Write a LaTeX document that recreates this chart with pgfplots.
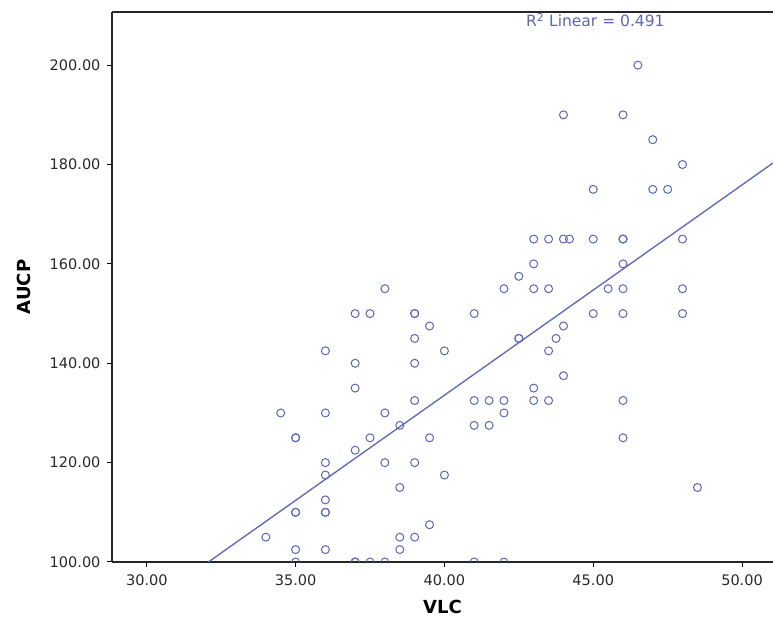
\documentclass[border=0pt]{standalone}
\usepackage{fontspec}
\setmainfont{DejaVu Sans}
\usepackage{pgfplots}
\pgfplotsset{compat=1.18}

\definecolor{ptblue}{RGB}{92,102,182}
\definecolor{lnblue}{RGB}{100,110,180}
\definecolor{ticktext}{RGB}{40,40,40}

\begin{document}
\begin{tikzpicture}
\useasboundingbox (-112pt,-66pt) rectangle (661pt,562pt);
\begin{axis}[
  at={(0,0)}, anchor=south west,
  scale only axis, width=661pt, height=550pt,
  xmin=28.83, xmax=51.04, ymin=100, ymax=210.7,
  axis lines=left, axis line style={-, line width=1.1pt, black!85},
  xtick={30,35,40,45,50}, ytick={100,120,140,160,180,200},
  tick align=outside, major tick length=5pt,
  tick style={black, line width=1pt},
  /pgf/number format/assume math mode=true,
  /pgf/number format/.cd, fixed, fixed zerofill, precision=2, 1000 sep={},
  /pgfplots/.cd,
  ticklabel style={font=\fontsize{14.5}{16}\selectfont, text=ticktext},
  yticklabel style={xshift=-3pt},
  xticklabel style={yshift=-4pt},
  xlabel={VLC}, ylabel={AUCP},
  label style={font=\bfseries\fontsize{18}{20}\selectfont},
  xlabel style={at={(axis description cs:0.5,-0.082)}, anchor=center},
  ylabel style={at={(axis description cs:-0.133,0.5)}, anchor=center},
  clip marker paths=true,
]
% regression line
\addplot[lnblue, line width=1.4pt] coordinates {(32.07,100) (51.04,180.3)};

\addplot[only marks, mark=o, mark size=4pt, ptblue, mark options={line width=1pt}] coordinates {
(46.5,200)
(44,190) (46,190)
(47,185)
(48,180)
(45,175) (47,175) (47.5,175)
(43,165) (43.5,165) (44,165) (44.2,165) (45,165) (46,165) (46,165) (48,165)
(43,160) (46,160)
(42.5,157.5)
(38,155) (42,155) (43,155) (43.5,155) (45.5,155) (46,155) (48,155)
(37,150) (37.5,150) (39,150) (39,150) (41,150) (45,150) (46,150) (48,150)
(39.5,147.5) (44,147.5)
(39,145) (42.5,145) (42.5,145) (43.75,145)
(36,142.5) (40,142.5) (43.5,142.5)
(37,140) (39,140)
(44,137.5)
(37,135) (43,135)
(39,132.5) (41,132.5) (41.5,132.5) (42,132.5) (43,132.5) (43.5,132.5) (46,132.5)
(34.5,130) (36,130) (38,130) (42,130)
(38.5,127.5) (41,127.5) (41.5,127.5)
(35,125) (35,125) (37.5,125) (39.5,125) (46,125)
(37,122.5)
(36,120) (38,120) (39,120)
(36,117.5) (40,117.5)
(38.5,115) (48.5,115)
(36,112.5)
(35,110) (35,110) (36,110) (36,110)
(39.5,107.5)
(34,105) (38.5,105) (39,105)
(35,102.5) (36,102.5) (38.5,102.5)
(35,100) (37,100) (37,100) (37.5,100) (38,100) (41,100) (42,100)
};

\node[text=ptblue, font=\fontsize{15.5}{17}\selectfont] at (axis cs:45.07,209.0) {R\textsuperscript{2} Linear = 0.491};
\end{axis}
\draw[line width=1.1pt, black!85] (0,550pt) -- (661pt,550pt);
\end{tikzpicture}
\end{document}
